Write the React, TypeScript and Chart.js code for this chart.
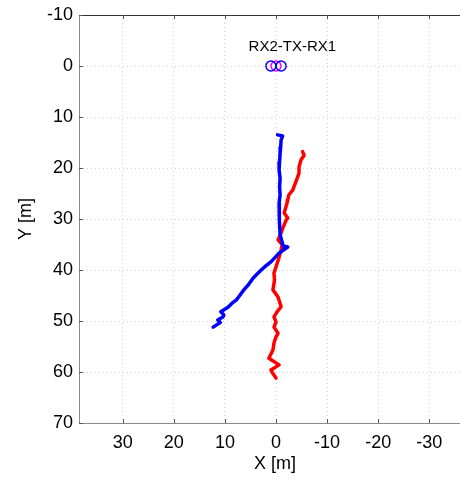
import React, { useEffect, useRef } from "react";
import { Chart, registerables } from "chart.js";

Chart.register(...registerables);

const xTicks = [-30, -20, -10, 0, 10, 20, 30];
const yTicks = [-10, 0, 10, 20, 30, 40, 50, 60, 70];

// Blue trace (X [m], Y [m])
const blueX = [-0.3, -1.3, -1.0, -0.9, -0.8, -0.7, -0.6, -0.8, -0.7, -0.8, -0.6, -0.7, -0.6, -0.8, -1.4, -2.3, -0.6, 1.0, 2.0, 2.9, 3.8, 4.5, 5.4, 6.3, 7.1, 7.8, 8.6, 9.4, 10.8, 10.2, 10.4, 11.4, 10.9, 12.3];
const blueY = [13.5, 13.7, 14.5, 16.0, 17.1, 18.8, 20.4, 22.0, 23.7, 25.3, 26.9, 28.5, 30.2, 33.1, 35.3, 35.5, 36.7, 38.4, 39.2, 40.0, 40.9, 41.6, 42.9, 43.9, 45.0, 45.9, 46.5, 47.3, 48.2, 48.8, 49.2, 49.8, 50.3, 51.2];

// Red trace
const redX = [-5.2, -5.5, -4.9, -4.5, -4.5, -3.9, -3.5, -3.3, -2.5, -2.3, -2.2, -1.6, -2.3, -2.0, -1.4, -1.0, -0.4, -1.2, -1.0, -0.6, 0.0, 0.4, 0.3, 0.6, -0.4, -1.0, -0.2, 0.4, 0.0, 0.4, -0.4, 0.0, 0.4, 0.6, 1.4, -0.6, 1.0, 0.6, 0.0];
const redY = [16.8, 17.5, 18.4, 19.8, 21.0, 22.7, 23.7, 24.3, 25.3, 26.3, 26.7, 28.8, 29.8, 30.2, 31.6, 32.7, 34.1, 35.0, 36.1, 37.5, 39.4, 40.6, 42.0, 43.9, 45.3, 47.2, 48.2, 49.2, 50.2, 51.2, 52.4, 53.1, 54.3, 55.7, 57.3, 58.6, 59.6, 60.3, 61.2];

// Antenna markers: RX2, TX, RX1
const rxX = [1.0, -1.0];
const rxY = [0, 0];
const txX = [0];
const txY = [0];

const annotationText = "RX2-TX-RX1";
const annotationX = -3.2;
const annotationY = -3.7;

const FONT = "'Liberation Sans', Arial, Helvetica, sans-serif";

function pts(xs: number[], ys: number[]) {
  return xs.map((x, i) => ({ x, y: ys[i] }));
}

const noPad = () => ({ left: 0, right: 0, top: 0, bottom: 0 });

const framePlugin = {
  id: "frame",
  afterDraw(chart: any) {
    const { ctx, chartArea } = chart;
    const xs = chart.scales.x;
    const ys = chart.scales.y;
    const { left, right, top, bottom } = chartArea;
    ctx.save();
    ctx.lineWidth = 1;
    ctx.strokeStyle = "#8a8a8a";
    ctx.beginPath();
    ctx.moveTo(left + 0.5, top);
    ctx.lineTo(left + 0.5, bottom + 0.5);
    ctx.lineTo(right, bottom + 0.5);
    ctx.stroke();
    ctx.strokeStyle = "#333";
    ctx.beginPath();
    ctx.moveTo(left, top + 0.5);
    ctx.lineTo(right, top + 0.5);
    ctx.stroke();
    ctx.strokeStyle = "#555";
    ctx.beginPath();
    xTicks.forEach((v) => {
      const px = Math.round(xs.getPixelForValue(v)) + 0.5;
      ctx.moveTo(px, bottom);
      ctx.lineTo(px, bottom - 4);
      ctx.moveTo(px, top);
      ctx.lineTo(px, top + 4);
    });
    yTicks.forEach((v) => {
      const py = Math.round(ys.getPixelForValue(v)) + 0.5;
      ctx.moveTo(left, py);
      ctx.lineTo(left + 4, py);
    });
    ctx.stroke();
    ctx.fillStyle = "#000";
    ctx.font = `15px ${FONT}`;
    ctx.textAlign = "center";
    ctx.textBaseline = "middle";
    ctx.fillText(annotationText, xs.getPixelForValue(annotationX), ys.getPixelForValue(annotationY));
    ctx.font = `18px ${FONT}`;
    ctx.fillText("X [m]", left + 196, 464);
    ctx.translate(26, (top + bottom) / 2);
    ctx.rotate(-Math.PI / 2);
    ctx.fillText("Y [m]", 0, 0);
    ctx.restore();
  },
};

export default function App() {
  const ref = useRef<HTMLCanvasElement | null>(null);
  useEffect(() => {
    if (!ref.current) return;
    const chart = new Chart(ref.current, {
      type: "scatter",
      data: {
        datasets: [
          {
            label: "blue",
            data: pts(blueX, blueY),
            showLine: true,
            borderColor: "#0000ff",
            borderWidth: 3.5,
            borderJoinStyle: "round",
            borderCapStyle: "round",
            pointRadius: 0,
            tension: 0,
          },
          {
            label: "red",
            data: pts(redX, redY),
            showLine: true,
            borderColor: "#ff0000",
            borderWidth: 3.5,
            borderJoinStyle: "round",
            borderCapStyle: "round",
            pointRadius: 0,
            tension: 0,
          },
          {
            label: "RX",
            data: pts(rxX, rxY),
            showLine: false,
            pointStyle: "circle",
            pointRadius: 5,
            pointBorderWidth: 1.5,
            borderColor: "#0000ff",
            backgroundColor: "rgba(0,0,0,0)",
          },
          {
            label: "TX",
            data: pts(txX, txY),
            showLine: false,
            pointStyle: "circle",
            pointRadius: 5,
            pointBorderWidth: 1.5,
            borderColor: "#ff00ff",
            backgroundColor: "rgba(0,0,0,0)",
          },
        ],
      },
      options: {
        responsive: false,
        animation: false,
        layout: { autoPadding: false, padding: { top: 15, left: 0, right: 0, bottom: 0 } },
        plugins: { legend: { display: false }, tooltip: { enabled: false } },
        scales: {
          x: {
            type: "linear",
            reverse: true,
            min: -36,
            max: 38.55,
            afterBuildTicks: (s: any) => {
              s.ticks = xTicks.map((v) => ({ value: v }));
            },
            afterFit: (s: any) => {
              s.height = 56;
              s.paddingLeft = 0;
              s.paddingRight = 0;
              s.getPadding = noPad;
            },
            grid: { color: "#d4d4d4", lineWidth: 1, drawTicks: false },
            border: { display: false, dash: [1, 3] },
            ticks: {
              color: "#000",
              padding: 9,
              font: { size: 18, family: FONT },
              maxRotation: 0,
              autoSkip: false,
            },
          },
          y: {
            type: "linear",
            reverse: true,
            min: -10,
            max: 70,
            afterBuildTicks: (s: any) => {
              s.ticks = yTicks.map((v) => ({ value: v }));
            },
            afterFit: (s: any) => {
              s.width = 79;
              s.paddingTop = 0;
              s.paddingBottom = 0;
              s.getPadding = noPad;
            },
            grid: { color: "#d4d4d4", lineWidth: 1, drawTicks: false },
            border: { display: false, dash: [1, 3] },
            ticks: {
              color: "#000",
              padding: 6,
              font: { size: 18, family: FONT },
              autoSkip: false,
            },
          },
        },
      },
      plugins: [framePlugin],
    });
    return () => chart.destroy();
  }, []);
  return (
    <div style={{ position: "absolute", left: 0, top: 0, width: 460, height: 479 }}>
      <canvas ref={ref} width={460} height={479} style={{ display: "block" }} />
    </div>
  );
}
